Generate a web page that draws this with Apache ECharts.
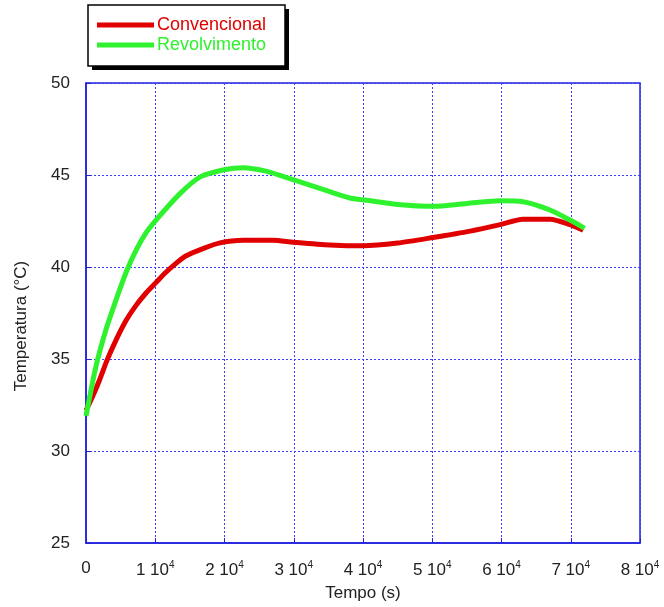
<!DOCTYPE html>
<html><head><meta charset="utf-8">
<script src="https://cdn.jsdelivr.net/npm/echarts@6/dist/echarts.min.js"></script>
<style>html,body{margin:0;padding:0;background:#fff}#c{width:664px;height:607px}</style>
</head><body><div id="c"></div>
<script>
const seriesNames = ['Convencional', 'Revolvimento'];
const convX = [0, 1000, 2000, 3000, 4300, 5800, 7200, 8700, 10100, 11500, 13000, 14400, 16900, 19200, 22700, 27000, 29900, 35200, 40000, 45000, 50100, 55500, 59800, 63100, 67000, 69900, 71800];
const convY = [32.2, 33.0, 33.9, 34.9, 36.0, 37.1, 37.9, 38.6, 39.15, 39.7, 40.2, 40.6, 41.0, 41.3, 41.45, 41.45, 41.35, 41.2, 41.15, 41.3, 41.6, 41.95, 42.3, 42.6, 42.6, 42.3, 42.0];
const revX = [0, 1440, 2890, 4330, 5780, 7220, 8660, 10110, 13600, 16500, 20100, 22700, 26100, 29900, 35200, 38100, 40000, 45000, 50100, 55000, 59800, 63100, 67000, 69900, 72000];
const revY = [31.9, 34.6, 36.6, 38.2, 39.7, 40.9, 41.85, 42.55, 44.0, 44.9, 45.3, 45.4, 45.2, 44.75, 44.1, 43.75, 43.65, 43.4, 43.3, 43.45, 43.6, 43.55, 43.1, 42.55, 42.1];
const xTicks = [0, 10000, 20000, 30000, 40000, 50000, 60000, 70000, 80000];
const yTicks = [25, 30, 35, 40, 45, 50];

const blue = '#2222dd';
const red = '#e00000';
const green = '#2ef22e';
const chart = echarts.init(document.getElementById('c'));
const pair = (xs, ys) => xs.map((x, i) => [x, ys[i]]);
chart.setOption({
  animation: false,
  textStyle: {fontFamily: 'Liberation Sans, Arial, sans-serif'},
  graphic: [
    {type: 'rect', z: 0, shape: {x: 92, y: 9, width: 197, height: 61}, style: {fill: '#000'}},
    {type: 'rect', z: 1, shape: {x: 88, y: 5, width: 197, height: 61}, style: {fill: '#fff', stroke: '#000', lineWidth: 1.5}}
  ],
  grid: {left: 86, right: 24, top: 83, bottom: 64, show: true, borderColor: blue, borderWidth: 1.5},
  legend: {
    left: 88, top: 5, orient: 'vertical', z: 10,
    padding: [11, 10, 9, 9], itemGap: 2, itemWidth: 57, itemHeight: 5,
    icon: 'rect',
    textStyle: {fontSize: 18, padding: [0, 0, 0, -2]},
    data: [
      {name: seriesNames[0], textStyle: {color: red}},
      {name: seriesNames[1], textStyle: {color: green}}
    ]
  },
  xAxis: {
    type: 'value', min: 0, max: 80000, interval: 10000,
    name: 'Tempo (s)', nameLocation: 'middle', nameGap: 42,
    nameTextStyle: {fontSize: 17, color: '#222'},
    axisLine: {lineStyle: {color: blue, width: 1.5}},
    axisTick: {inside: true, length: 5, lineStyle: {color: blue}},
    splitLine: {show: true, lineStyle: {color: '#3b3bff', type: [2, 2], width: 1}},
    axisLabel: {
      color: '#222', fontSize: 17, margin: 17,
      formatter: v => v === 0 ? '0' : (v / 10000) + ' 10{sup|4}',
      rich: {sup: {fontSize: 10, color: '#222', verticalAlign: 'top', padding: [0, 0, 10, 0]}}
    }
  },
  yAxis: {
    type: 'value', min: 25, max: 50, interval: 5,
    name: 'Temperatura (°C)', nameLocation: 'middle', nameGap: 56, nameRotate: 90,
    nameTextStyle: {fontSize: 17, color: '#222', padding: [0, 26, 0, 0]},
    axisLine: {lineStyle: {color: blue, width: 1.5}},
    axisTick: {inside: true, length: 5, lineStyle: {color: blue}},
    splitLine: {show: true, lineStyle: {color: '#3b3bff', type: [2, 2], width: 1}},
    axisLabel: {color: '#222', fontSize: 17, margin: 16}
  },
  series: [
    {name: seriesNames[0], type: 'line', data: pair(convX, convY), smooth: 0.25, showSymbol: false,
     lineStyle: {color: red, width: 5}, itemStyle: {color: red}},
    {name: seriesNames[1], type: 'line', data: pair(revX, revY), smooth: 0.25, showSymbol: false,
     lineStyle: {color: green, width: 5}, itemStyle: {color: green}}
  ]
});
</script></body></html>
